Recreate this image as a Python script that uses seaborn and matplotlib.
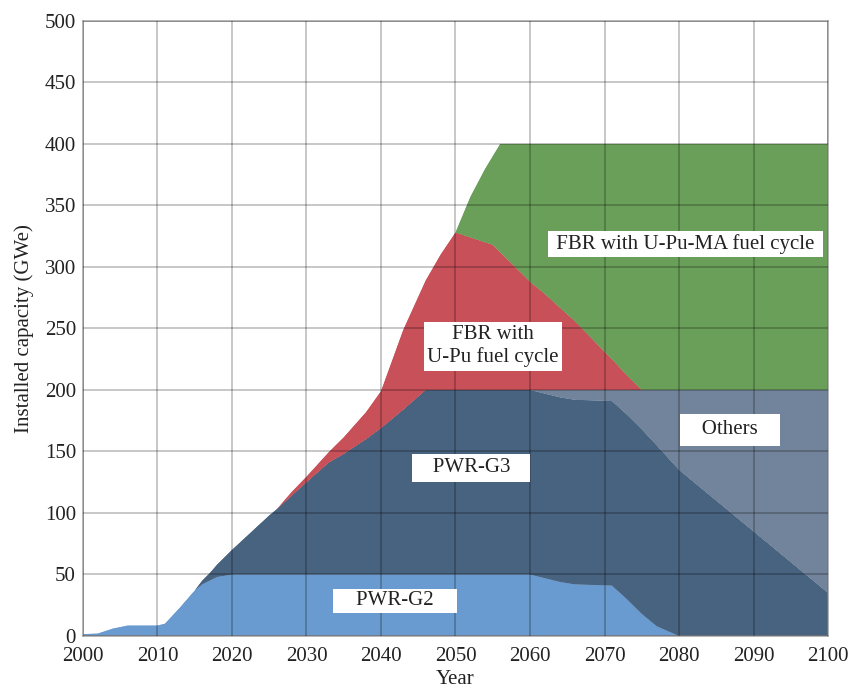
import numpy as np
import pandas as pd
import matplotlib
matplotlib.use("Agg")
import matplotlib.pyplot as plt
import seaborn as sns
import seaborn.objects as so

# Installed nuclear capacity scenario (GWe) by reactor type, stacked.
years = [2000, 2002, 2004, 2006, 2010, 2011, 2013, 2015, 2016, 2017, 2018,
         2020, 2025, 2026, 2028, 2030, 2033, 2035, 2038, 2040, 2043, 2046,
         2048, 2050, 2052, 2054, 2055, 2056, 2058, 2060, 2062, 2064, 2066,
         2071, 2073, 2075, 2077, 2080, 2085, 2090, 2095, 2100]

nan = np.nan
pwr_g2 = [1.5, 2, 6, 8.5, 8.5, 10, 23, 37, 42, 45, 48,
          50, 50, 50, 50, 50, 50, 50, 50, 50, 50, 50,
          50, 50, 50, 50, 50, 50, 50, 50, 47, 44, 42,
          41, 30, 18, 8, 0, nan, nan, nan, nan]
pwr_g3 = [nan, nan, nan, nan, nan, nan, nan, 0, 3, 6, 10,
          20, 48, 53, 64, 75, 91, 98, 110, 119, 134, 150,
          150, 150, 150, 150, 150, 150, 150, 150, 150, 150, 150,
          150, 150, 150, 147, 135, 110, 85, 60, 35]
others = [nan] * 29 + [0, 3, 6, 8, 9, 20, 32, 45, 65, 90, 115, 140, 165]
fbr_upu = [nan] * 13 + [0, 3, 4.5, 8.5, 13.5, 22, 30, 65, 89,
                        110, 128, 124, 120, 118, 112, 100, 88, 78, 67, 56,
                        25, 12, 0, nan, nan, nan, nan, nan, nan]
fbr_upu_ma = [nan] * 23 + [0, 33, 60, 72, 88, 100, 112, 122, 133, 144,
                           175, 188, 200, 200, 200, 200, 200, 200, 200]

series_names = ["PWR-G2", "PWR-G3", "Others",
                "FBR with U-Pu fuel cycle", "FBR with U-Pu-MA fuel cycle"]
series_values = [pwr_g2, pwr_g3, others, fbr_upu, fbr_upu_ma]
series_colors = ["#6a9bd0", "#48637f", "#72849b", "#c85058", "#6a9f5a"]

x_ticks = list(range(2000, 2101, 10))
y_ticks = list(range(0, 501, 50))

frames = []
for name, vals in zip(series_names, series_values):
    frames.append(pd.DataFrame({"year": years, "capacity": vals, "type": name}))
df = pd.concat(frames, ignore_index=True).dropna()

sns.set_theme(style="white")
plt.rcParams["font.family"] = ["Liberation Serif", "DejaVu Serif"]

fig = plt.figure(figsize=(8.51, 6.88), dpi=100)
ax = fig.add_axes([0.0975, 0.0756, 0.8755, 0.894])

(
    so.Plot(df, x="year", y="capacity", color="type")
    .add(so.Area(alpha=1, edgewidth=0.6, edgealpha=1), so.Stack(), legend=False)
    .scale(color=dict(zip(series_names, series_colors)))
    .layout(engine=None)
    .on(ax)
    .plot()
)

ax.set_position([0.0975, 0.0756, 0.8755, 0.894])
ax.set_xlim(2000, 2100)
ax.set_ylim(0, 500)
ax.set_xticks(x_ticks)
ax.set_yticks(y_ticks)
ax.set_xticklabels([str(t) for t in x_ticks], fontsize=15, color="#222222")
ax.set_yticklabels([str(t) for t in y_ticks], fontsize=15, color="#222222")
ax.tick_params(axis="x", length=0, pad=8)
ax.tick_params(axis="y", length=0, pad=5)
ax.set_xlabel("Year", fontsize=15, color="#222222", labelpad=3)
ax.set_ylabel("Installed capacity (GWe)", fontsize=15, color="#222222", labelpad=8)
ax.set_facecolor("white")

# grid drawn over the filled areas
ax.set_axisbelow(False)
ax.grid(True, color="black", alpha=0.28, linewidth=1.1)
for sp in ax.spines.values():
    sp.set_visible(True)
    sp.set_color("#a0a0a0")
    sp.set_linewidth(1.1)


def label(x, y, text, pad, **kw):
    box = dict(boxstyle=f"square,pad={pad}", facecolor="white", edgecolor="none")
    ax.text(x, y, text, fontsize=15, color="#222222", ha="center", va="center",
            bbox=box, zorder=5, **kw)


label(2041.9, 28.5, "    PWR-G2    ", 0.12)
label(2052.1, 136.6, "   PWR-G3   ", 0.22)
label(2086.8, 167.5, "   Others   ", 0.3)
label(2055.0, 235.5, "FBR with\nU-Pu fuel cycle", 0.16, linespacing=1.2)
label(2080.9, 318.9, " FBR with U-Pu-MA fuel cycle ", 0.14)

fig.savefig("out.png", dpi=100)
